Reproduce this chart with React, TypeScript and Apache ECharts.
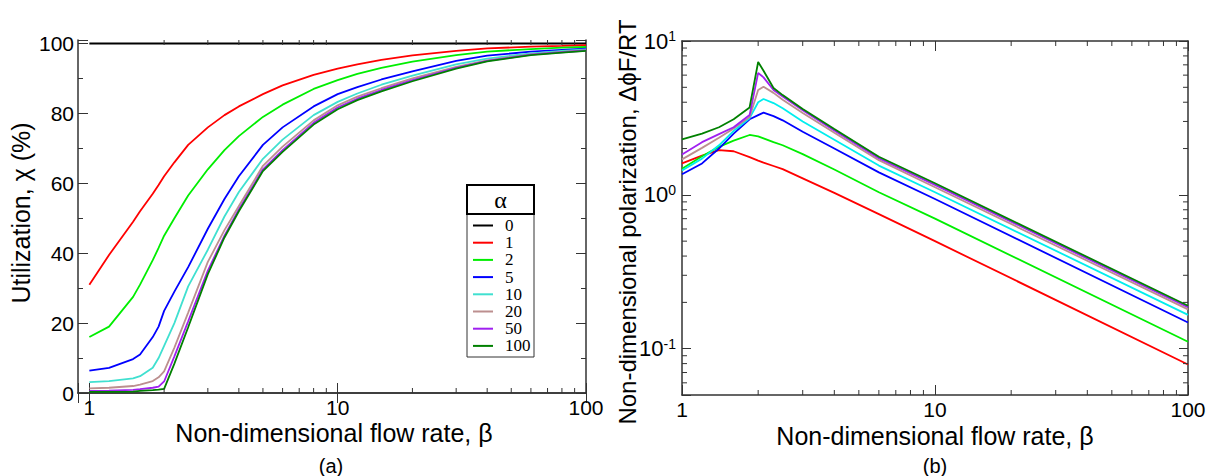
import React, { useEffect, useRef } from 'react';
import * as echarts from 'echarts';

// ---------- data: panel (a) utilization ----------
const BETA_A = [1, 1.2, 1.5, 1.6, 1.8, 1.9, 2, 2.2, 2.5, 3, 3.5, 4, 5, 6, 8, 10, 12, 15, 20, 30, 40, 60, 80, 100];
const BETA_A0 = [1, 100];
const UTIL_0 = [100, 100];
const UTIL_1 = [31, 39.5, 49, 52, 57, 59.5, 62, 66, 71, 76, 79.5, 82, 85.5, 88, 91, 92.8, 94, 95.3, 96.6, 97.9, 98.6, 99.1, 99.3, 99.5];
const UTIL_2 = [16, 19, 27.5, 31, 38, 41.5, 45, 50, 56.5, 64, 69.5, 73.5, 79, 82.5, 87, 89.5, 91.3, 93, 94.8, 96.7, 97.7, 98.4, 98.8, 99];
const UTIL_5 = [6.4, 7.2, 9.7, 11, 16, 19, 23.5, 29, 36, 47, 55.5, 62, 71, 76, 82, 85.5, 87.5, 89.7, 92, 95, 96.5, 97.7, 98.2, 98.5];
const UTIL_10 = [3.1, 3.4, 4.2, 4.8, 7.2, 10, 13.5, 20, 30.5, 41, 50.5, 57.5, 67, 72.5, 79.5, 83.3, 85.7, 88.2, 90.8, 94, 95.7, 97.2, 97.9, 98.3];
const UTIL_20 = [1.3, 1.5, 2.0, 2.4, 3.4, 4.5, 6.2, 13, 23, 37.5, 46.6, 53.5, 65, 70.5, 78, 82.3, 84.8, 87.2, 90, 93.3, 95.2, 96.9, 97.6, 98.1];
const UTIL_50 = [0.6, 0.7, 0.9, 1.1, 1.5, 1.8, 3.3, 10.5, 20.5, 35, 45, 52.5, 64, 69.5, 77.3, 81.7, 84.2, 86.7, 89.5, 93, 95, 96.8, 97.5, 98];
const UTIL_100 = [0.3, 0.3, 0.4, 0.6, 0.8, 0.95, 1.2, 8.4, 18.8, 34, 44.5, 52, 63.5, 69, 76.8, 81.2, 83.8, 86.3, 89.2, 92.8, 94.9, 96.7, 97.4, 97.9];

// ---------- data: panel (b) polarization ----------
const BETA_B = [1, 1.2, 1.4, 1.6, 1.85, 2, 2.1, 2.3, 2.5, 3, 4, 6, 10, 100];
const POL_1 = [1.60, 1.80, 1.95, 1.92, 1.76, 1.67, 1.62, 1.54, 1.47, 1.28, 1.03, 0.75, 0.50, 0.079];
const POL_2 = [1.48, 1.78, 2.05, 2.25, 2.45, 2.40, 2.33, 2.2, 2.1, 1.84, 1.46, 1.04, 0.70, 0.111];
const POL_5 = [1.36, 1.60, 2.0, 2.5, 3.1, 3.3, 3.42, 3.25, 3.05, 2.57, 2.0, 1.40, 0.94, 0.148];
const POL_10 = [1.44, 1.72, 2.1, 2.6, 3.15, 4.0, 4.2, 3.95, 3.65, 3.0, 2.28, 1.55, 1.04, 0.166];
const POL_20 = [1.70, 2.02, 2.35, 2.7, 3.2, 4.8, 5.05, 4.6, 4.15, 3.4, 2.53, 1.68, 1.12, 0.18];
const POL_50 = [1.83, 2.2, 2.48, 2.75, 3.3, 6.2, 5.8, 4.8, 4.35, 3.55, 2.62, 1.73, 1.16, 0.186];
const POL_100 = [2.29, 2.5, 2.75, 3.1, 3.7, 7.3, 6.4, 4.95, 4.45, 3.62, 2.68, 1.77, 1.19, 0.19];

const ALPHAS = ['0', '1', '2', '5', '10', '20', '50', '100'];
const MINOR_X = [2, 3, 4, 5, 6, 7, 8, 9, 20, 30, 40, 50, 60, 70, 80, 90];
const MINOR_Y_B = [0.06, 0.07, 0.08, 0.09, 0.2, 0.3, 0.4, 0.5, 0.6, 0.7, 0.8, 0.9, 2, 3, 4, 5, 6, 7, 8, 9];

const COL_A = ['#000000', '#ff0000', '#00ee00', '#0000ff', '#40e0d0', '#bc8f8f', '#a020f0', '#008000'];
const COL_B = ['#000000', '#ff0000', '#00ee00', '#0000ff', '#00eeee', '#bc8f8f', '#a020f0', '#008000'];

const AX = '#333333';
const SANS = 'Liberation Sans, Arial, sans-serif';

function pairs(xs: number[], ys: number[]) {
  return xs.map((x, i) => [x, ys[i]]);
}

function lineSeries(name: string, data: number[][], color: string, xi: number, yi: number) {
  return {
    type: 'line',
    name,
    xAxisIndex: xi,
    yAxisIndex: yi,
    data,
    symbol: 'none',
    showSymbol: false,
    lineStyle: { width: 1.8, color },
    itemStyle: { color },
    z: 3,
  };
}

function logAxis(grid: number, pos: string, min: number, max: number, labels: boolean) {
  return {
    type: 'log',
    logBase: 10,
    gridIndex: grid,
    position: pos,
    min,
    max,
    axisLine: { show: true, lineStyle: { color: AX, width: 1.5 } },
    axisTick: { show: true, inside: true, length: 10, lineStyle: { color: AX, width: 1 } },
    axisLabel: {
      show: labels,
      color: '#000',
      fontSize: 21,
      fontFamily: SANS,
      margin: 4,
      formatter: (v: number) => {
        const e = Math.log10(v);
        return Math.abs(e - Math.round(e)) < 1e-6 ? String(Math.round(v)) : '';
      },
    },
    splitLine: { show: false },
  };
}

export default function App() {
  const ref = useRef<HTMLDivElement>(null);
  useEffect(() => {
    const chart = echarts.init(ref.current!, null, { renderer: 'svg' });

    const utilSets = [UTIL_1, UTIL_2, UTIL_5, UTIL_10, UTIL_20, UTIL_50, UTIL_100];
    const polSets = [POL_1, POL_2, POL_5, POL_10, POL_20, POL_50, POL_100];

    const series: any[] = [];
    series.push(lineSeries(ALPHAS[0], pairs(BETA_A0, UTIL_0), COL_A[0], 0, 0));
    utilSets.forEach((s, i) => series.push(lineSeries(ALPHAS[i + 1], pairs(BETA_A, s), COL_A[i + 1], 0, 0)));
    polSets.forEach((s, i) => series.push(lineSeries(ALPHAS[i + 1], pairs(BETA_B, s), COL_B[i + 1], 2, 2)));

    const tickStyle = { stroke: AX, lineWidth: 1 };
    // minor ticks on log x axes (both panels, bottom and top)
    [[0, 0, 0, 101], [2, 2, 0.05, 10]].forEach(([xi, yi, y0, y1]) => {
      series.push({
        type: 'custom',
        xAxisIndex: xi,
        yAxisIndex: yi,
        silent: true,
        clip: false,
        z: 5,
        data: MINOR_X.map((v) => [v, y0]),
        renderItem: (_p: any, api: any) => {
          const v = api.value(0);
          const b = api.coord([v, y0]);
          const t = api.coord([v, y1]);
          return {
            type: 'group',
            children: [
              { type: 'line', shape: { x1: b[0], y1: b[1], x2: b[0], y2: b[1] - 5 }, style: tickStyle },
              { type: 'line', shape: { x1: t[0], y1: t[1], x2: t[0], y2: t[1] + 5 }, style: tickStyle },
            ],
          };
        },
      });
    });
    // minor ticks on log y axis of panel (b)
    series.push({
      type: 'custom',
      xAxisIndex: 2,
      yAxisIndex: 2,
      silent: true,
      clip: false,
      z: 5,
      data: MINOR_Y_B.map((v) => [1, v]),
      renderItem: (_p: any, api: any) => {
        const v = api.value(1);
        const l = api.coord([1, v]);
        const r = api.coord([100, v]);
        return {
          type: 'group',
          children: [
            { type: 'line', shape: { x1: l[0], y1: l[1], x2: l[0] + 5, y2: l[1] }, style: tickStyle },
            { type: 'line', shape: { x1: r[0], y1: r[1], x2: r[0] - 5, y2: r[1] }, style: tickStyle },
          ],
        };
      },
    });

    const linY = (pos: string, labels: boolean) => ({
      type: 'value',
      gridIndex: 0,
      position: pos,
      min: 0,
      max: 101,
      interval: 20,
      axisLine: { show: true, lineStyle: { color: AX, width: 1.5 } },
      axisTick: { show: true, inside: true, length: 10, lineStyle: { color: AX, width: 1 } },
      minorTick: { show: true, splitNumber: 2, length: 5, lineStyle: { color: AX, width: 1 } },
      axisLabel: {
        show: labels,
        color: '#000',
        fontSize: 21,
        fontFamily: SANS,
        margin: 4,
        formatter: (v: number) => (v % 20 === 0 ? String(v) : ''),
      },
      splitLine: { show: false },
      minorSplitLine: { show: false },
    });

    const logY = (pos: string, labels: boolean) => ({
      type: 'log',
      logBase: 10,
      gridIndex: 1,
      position: pos,
      min: 0.05,
      max: 10,
      axisLine: { show: true, lineStyle: { color: AX, width: 1.5 } },
      axisTick: { show: true, inside: true, length: 9, lineStyle: { color: AX, width: 1 } },
      axisLabel: {
        show: labels,
        color: '#000',
        margin: 6,
        formatter: (v: number) => {
          const e = Math.log10(v);
          if (Math.abs(e - Math.round(e)) > 1e-6) return '';
          return '{b|10}{s|' + Math.round(e) + '}';
        },
        rich: {
          b: { fontSize: 22, fontFamily: SANS, color: '#000' },
          s: { fontSize: 14, fontFamily: SANS, color: '#000', verticalAlign: 'top', padding: [0, 0, 10, 0] },
        },
      },
      splitLine: { show: false },
    });

    const txt = (text: string, x: number, y: number, size: number, rot = 0) => ({
      type: 'text',
      x,
      y,
      rotation: rot,
      style: {
        text,
        fontSize: size,
        fontFamily: SANS,
        fill: '#000',
        textAlign: 'center',
        textVerticalAlign: 'middle',
        align: 'center',
        verticalAlign: 'middle',
      },
      z: 20,
    });

    chart.setOption({
      animation: false,
      backgroundColor: '#ffffff',
      grid: [
        { left: 78, top: 40, width: 508, height: 353, containLabel: false, outerBoundsMode: 'none' },
        { left: 682, top: 41, width: 506, height: 354, containLabel: false, outerBoundsMode: 'none' },
      ],
      xAxis: [
        logAxis(0, 'bottom', 0.9, 100, true),
        logAxis(0, 'top', 0.9, 100, false),
        logAxis(1, 'bottom', 1, 100, true),
        logAxis(1, 'top', 1, 100, false),
      ],
      yAxis: [linY('left', true), linY('right', false), logY('left', true), logY('right', false)],
      legend: {
        data: ALPHAS,
        orient: 'vertical',
        left: 473,
        top: 217,
        padding: 0,
        itemGap: 0.2,
        itemWidth: 20,
        itemHeight: 2,
        icon: 'rect',
        selectedMode: false,
        textStyle: { fontFamily: 'Liberation Serif, Times New Roman, serif', fontSize: 17, lineHeight: 17, color: '#000', padding: [0, 0, 0, 7] },
        z: 10,
      },
      graphic: [
        { type: 'rect', shape: { x: 467, y: 214, width: 67, height: 143 }, style: { fill: '#fff', stroke: '#333', lineWidth: 1 }, z: 8 },
        { type: 'rect', shape: { x: 467, y: 185, width: 67, height: 29 }, style: { fill: '#fff', stroke: '#000', lineWidth: 2 }, z: 8 },
        {
          type: 'text',
          x: 500.5,
          y: 199.5,
          style: { text: 'α', fontSize: 24, fontFamily: 'Liberation Serif, serif', fill: '#000', textAlign: 'center', textVerticalAlign: 'middle', align: 'center', verticalAlign: 'middle' },
          z: 9,
        },
        txt('Utilization, χ (%)', 21, 213, 25, Math.PI / 2),
        txt('Non-dimensional polarization, ΔϕF/RT', 627, 222, 24, Math.PI / 2),
        txt('Non-dimensional flow rate, β', 334, 433, 25),
        txt('Non-dimensional flow rate, β', 935, 436, 25),
        txt('(a)', 331, 466, 20),
        txt('(b)', 935, 466, 20),
      ],
      series,
    });
    return () => chart.dispose();
  }, []);
  return (
    <div
      ref={ref}
      style={{ position: 'fixed', left: 0, top: 0, width: 1208, height: 476, background: '#fff' }}
    />
  );
}
